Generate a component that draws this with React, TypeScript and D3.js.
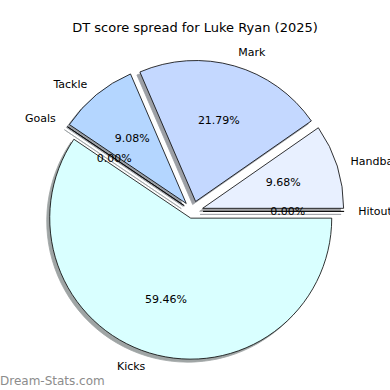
import React from "react";
import * as d3 from "d3";

// slices, clockwise from 3 o'clock
const categories = ["Kicks", "Goals", "Tackle", "Mark", "Handball", "Hitout"];
const percents = [59.46, 0.0, 9.08, 21.79, 9.68, 0.0];
const colors = ["#d9ffff", "#c8f0ff", "#b4d6ff", "#c4d8ff", "#e8f0ff", "#d0e0ff"];
const explode = [0.05, 0.073, 0.073, 0.073, 0.073, 0.073];

const title = "DT score spread for Luke Ryan (2025)";
const W = 390;
const H = 390;
const cx = 192.8;
const cy = 211.4;
const r = 141;
const font = "'DejaVu Sans', sans-serif";

export default function App() {
  const pie = d3
    .pie<number>()
    .sort(null)
    .value((d) => d)
    .startAngle(Math.PI / 2)
    .endAngle(Math.PI / 2 + 2 * Math.PI);
  const arcs = pie(percents);
  const arc = d3.arc<d3.PieArcDatum<number>>().innerRadius(0).outerRadius(r);

  const slices = arcs.map((a, i) => {
    const mid = (a.startAngle + a.endAngle) / 2;
    const dx = Math.sin(mid);
    const dy = -Math.cos(mid);
    const ox = cx + explode[i] * r * dx;
    const oy = cy + explode[i] * r * dy;
    return { a, i, dx, dy, ox, oy, path: arc(a) || "" };
  });

  return (
    <svg
      width={W}
      height={H}
      style={{ position: "absolute", left: 0, top: 0, background: "#fff" }}
      fontFamily={font}
    >
      <text x={195} y={32} textAnchor="middle" fontSize={13} fill="#000">
        {title}
      </text>

      {/* shadows under every wedge */}
      {slices.map((s) => {
        const c = d3.rgb(colors[s.i]);
        const sc = d3.rgb(c.r * 0.3, c.g * 0.3, c.b * 0.3).toString();
        return (
          <path
            key={"sh" + s.i}
            d={s.path}
            transform={`translate(${s.ox - 3},${s.oy + 3})`}
            fill={sc}
            stroke={sc}
            strokeWidth={0.8}
            opacity={0.5}
          />
        );
      })}

      {slices.map((s) => (
        <path
          key={"w" + s.i}
          d={s.path}
          transform={`translate(${s.ox},${s.oy})`}
          fill={colors[s.i]}
          stroke="#000"
          strokeWidth={0.8}
          strokeLinejoin="round"
        />
      ))}

      {slices.map((s) => (
        <text
          key={"l" + s.i}
          x={s.ox + 1.1 * r * s.dx}
          y={s.oy + 1.1 * r * s.dy}
          textAnchor={s.dx >= 0 ? "start" : "end"}
          dominantBaseline="central"
          fontSize={11}
          fill="#000"
        >
          {categories[s.i]}
        </text>
      ))}

      {slices.map((s) => (
        <text
          key={"p" + s.i}
          x={s.ox + 0.6 * r * s.dx}
          y={s.oy + 0.6 * r * s.dy}
          textAnchor="middle"
          dominantBaseline="central"
          fontSize={11}
          fill="#000"
        >
          {percents[s.i].toFixed(2) + "%"}
        </text>
      ))}

      <text x={0} y={385} fontSize={12} fill="#8c8c8c">
        Dream-Stats.com
      </text>
    </svg>
  );
}
